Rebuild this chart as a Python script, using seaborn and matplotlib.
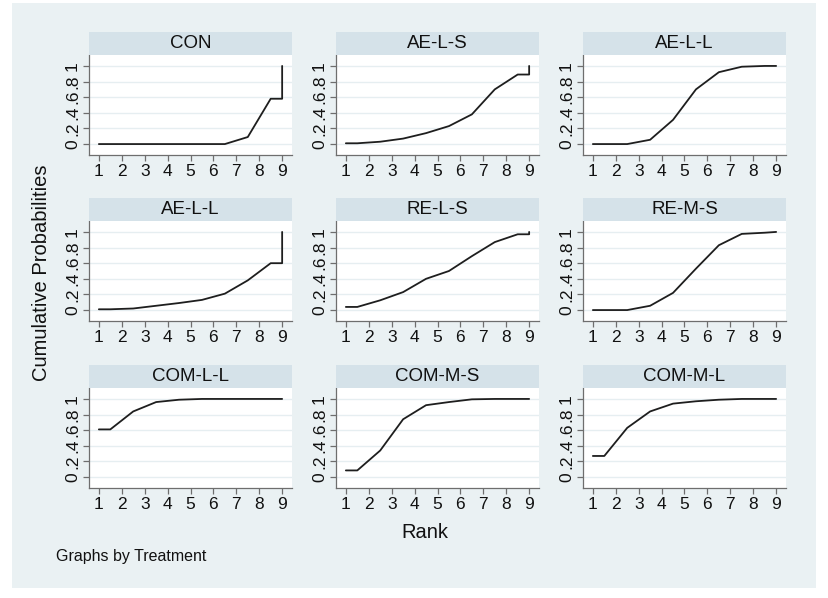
import numpy as np
import pandas as pd
import matplotlib
matplotlib.use("Agg")
import matplotlib.pyplot as plt
import seaborn as sns
from matplotlib.patches import Rectangle

# ---------------- data ----------------
treatments = ["CON", "AE-L-S", "AE-L-L",
              "AE-L-L", "RE-L-S", "RE-M-S",
              "COM-L-L", "COM-M-S", "COM-M-L"]
rank_pos = [1, 1.5, 2.5, 3.5, 4.5, 5.5, 6.5, 7.5, 8.5, 9, 9]

con     = [0.00, 0.00, 0.00, 0.00, 0.00, 0.00, 0.00, 0.09, 0.58, 0.58, 1.00]
ae_l_s  = [0.01, 0.01, 0.03, 0.07, 0.14, 0.23, 0.38, 0.70, 0.89, 0.89, 1.00]
ae_l_l1 = [0.00, 0.00, 0.00, 0.055, 0.31, 0.70, 0.92, 0.99, 1.00, 1.00, 1.00]
ae_l_l2 = [0.01, 0.01, 0.02, 0.055, 0.09, 0.13, 0.21, 0.38, 0.60, 0.60, 1.00]
re_l_s  = [0.04, 0.04, 0.125, 0.23, 0.40, 0.50, 0.69, 0.87, 0.97, 0.97, 1.00]
re_m_s  = [0.00, 0.00, 0.00, 0.055, 0.22, 0.53, 0.83, 0.975, 0.99, 1.00, 1.00]
com_l_l = [0.61, 0.61, 0.84, 0.96, 0.99, 1.00, 1.00, 1.00, 1.00, 1.00, 1.00]
com_m_s = [0.085, 0.085, 0.34, 0.74, 0.92, 0.96, 0.995, 1.00, 1.00, 1.00, 1.00]
com_m_l = [0.27, 0.27, 0.63, 0.84, 0.94, 0.97, 0.99, 1.00, 1.00, 1.00, 1.00]

series = [con, ae_l_s, ae_l_l1, ae_l_l2, re_l_s, re_m_s, com_l_l, com_m_s, com_m_l]

x_ticks = [1, 2, 3, 4, 5, 6, 7, 8, 9]
x_ticklabels = ["1", "2", "3", "4", "5", "6", "7", "8", "9"]
y_ticks = [0, 0.2, 0.4, 0.6, 0.8, 1.0]
y_ticklabels = ["0", ".2", ".4", ".6", ".8", "1"]

rows = []
for i, vals in enumerate(series):
    for j, (r, p) in enumerate(zip(rank_pos, vals)):
        rows.append({"panel": i, "rank": r, "prob": p, "order": j})
df = pd.DataFrame(rows)

# ---------------- style ----------------
sns.set_theme(style="white")
plt.rcParams["font.family"] = ["Liberation Sans", "DejaVu Sans"]

W, H = 829, 598
fig = plt.figure(figsize=(W / 100, H / 100), dpi=100)
fig.patch.set_facecolor("white")
bg = "#EAF1F3"
fig.patches.append(Rectangle((12 / W, 1 - 588 / H), (816 - 12) / W, (588 - 3) / H,
                             transform=fig.transFigure, facecolor=bg,
                             edgecolor="none", zorder=-10))

col_left = [89, 336, 583]
col_w = 203
row_strip_top = [32, 198, 365]
strip_h = 23
axes_h = 100

strip_color = "#D5E2E9"
spine_color = "#6E6E6E"
line_color = "#1E1E1E"
grid_color = "#E6EEF1"

for i in range(9):
    r, c = divmod(i, 3)
    l = col_left[c]
    st = row_strip_top[r]
    at = st + strip_h
    ab = at + axes_h
    ax = fig.add_axes([l / W, 1 - ab / H, col_w / W, axes_h / H])
    ax.set_facecolor("white")
    sub = df[df["panel"] == i].sort_values("order")
    sns.lineplot(data=sub, x="rank", y="prob", estimator=None, sort=False,
                 color=line_color, linewidth=1.3, ax=ax)
    ax.set_xlim(0.57, 9.43)
    ax.set_ylim(-0.14, 1.14)
    ax.set_xticks(x_ticks)
    ax.set_xticklabels(x_ticklabels)
    ax.set_yticks(y_ticks)
    ax.set_yticklabels(y_ticklabels, rotation=90, va="center")
    ax.set_xlabel("")
    ax.set_ylabel("")
    for ytk in y_ticks:
        ax.axhline(ytk, color=grid_color, linewidth=1.0, zorder=0)
    for s in ["top", "right"]:
        ax.spines[s].set_visible(False)
    for s in ["left", "bottom"]:
        ax.spines[s].set_color(spine_color)
        ax.spines[s].set_linewidth(0.9)
    ax.tick_params(axis="both", which="major", direction="out", length=4.5,
                   width=0.9, color=spine_color, labelsize=12.5, pad=2,
                   labelcolor="#111111", left=True, bottom=True)

    sax = fig.add_axes([l / W, 1 - at / H, col_w / W, strip_h / H])
    sax.set_facecolor(strip_color)
    sax.set_xticks([])
    sax.set_yticks([])
    for s in sax.spines.values():
        s.set_visible(False)
    sax.text(0.5, 0.5, treatments[i], ha="center", va="center",
             fontsize=13.5, color="#111111", transform=sax.transAxes)

fig.text(42 / W, 1 - 273 / H, "Cumulative Probabilities", rotation=90,
         ha="center", va="center", fontsize=14.5, color="#111111")
fig.text(425 / W, 1 - 533 / H, "Rank", ha="center", va="center",
         fontsize=14.5, color="#111111")
fig.text(56 / W, 1 - 557 / H, "Graphs by Treatment", ha="left", va="center",
         fontsize=11.5, color="#111111")

fig.savefig("out.png", dpi=100, facecolor=fig.get_facecolor())
